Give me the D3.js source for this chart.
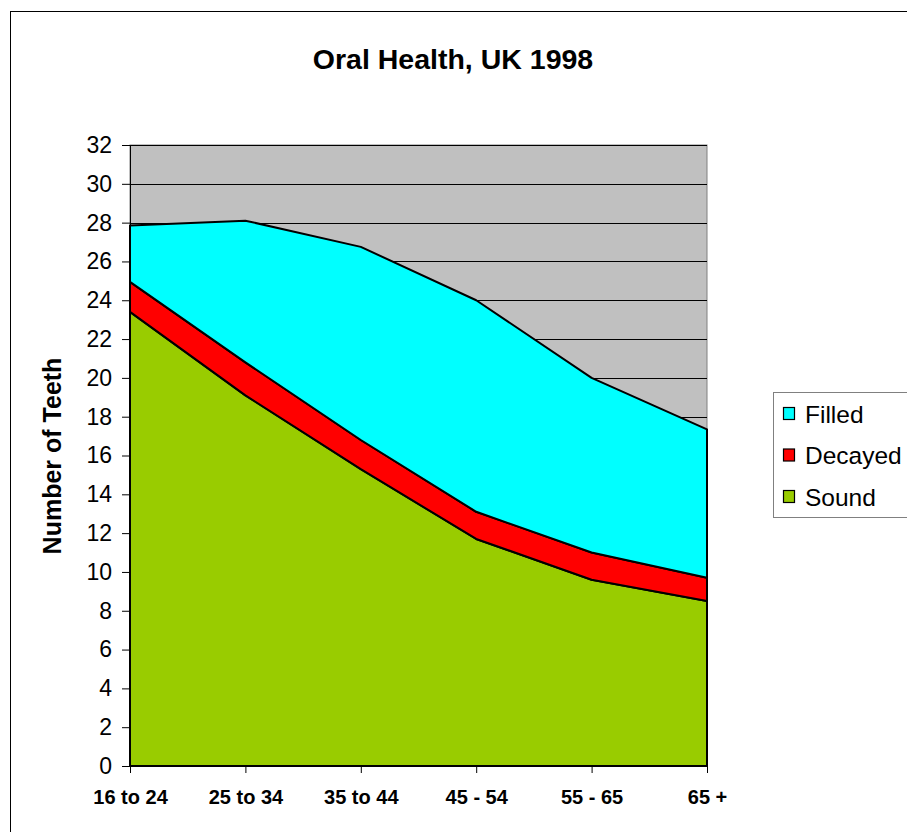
<!DOCTYPE html>
<html>
<head>
<meta charset="utf-8">
<script src="https://cdn.jsdelivr.net/npm/d3@7"></script>
<style>
  body { margin: 0; background: #fff; }
  text { font-family: "Liberation Sans", Arial, sans-serif; }
</style>
</head>
<body>
<div id="chart"></div>
<script>
var ageGroups = ["16 to 24", "25 to 34", "35 to 44", "45 - 54", "55 - 65", "65 +"];
var sound   = [23.4, 19.1, 15.3, 11.7, 9.6, 8.5];
var decayed = [1.55, 1.7, 1.5, 1.4, 1.4, 1.2];
var filled  = [2.9, 7.3, 9.95, 10.9, 9.0, 7.65];
var seriesNames = ["Sound", "Decayed", "Filled"];
var seriesColors = ["#99CC00", "#FF0000", "#00FFFF"];
var yTicks = d3.range(0, 33, 2);

var W = 907, H = 832;
var plot = {left: 130, top: 145, right: 707, bottom: 766};

var svg = d3.select("#chart").append("svg")
    .attr("width", W)
    .attr("height", H);

// outer frame
svg.append("rect")
    .attr("x", 10.5).attr("y", 11.5)
    .attr("width", W + 10).attr("height", H + 10)
    .attr("fill", "none")
    .attr("stroke", "#000")
    .attr("stroke-width", 1);

var table = ageGroups.map(function(g, i) {
  return {group: g, Sound: sound[i], Decayed: decayed[i], Filled: filled[i]};
});

var xScale = d3.scalePoint()
    .domain(ageGroups)
    .range([plot.left, plot.right]);

var yScale = d3.scaleLinear()
    .domain([0, 32])
    .range([plot.bottom, plot.top]);

// plot background
svg.append("rect")
    .attr("x", plot.left).attr("y", plot.top)
    .attr("width", plot.right - plot.left)
    .attr("height", plot.bottom - plot.top)
    .attr("fill", "#C0C0C0")
    .attr("stroke", "#808080")
    .attr("stroke-width", 1);

// gridlines
svg.append("g").selectAll("line")
  .data(yTicks.filter(function(d) { return d > 0; }))
  .enter().append("line")
    .attr("x1", plot.left).attr("x2", plot.right)
    .attr("y1", function(d) { return Math.round(yScale(d)) + 0.5; })
    .attr("y2", function(d) { return Math.round(yScale(d)) + 0.5; })
    .attr("stroke", "#000")
    .attr("stroke-width", 1);

var stack = d3.stack().keys(seriesNames);
var layers = stack(table);

var area = d3.area()
    .x(function(d) { return xScale(d.data.group); })
    .y0(function(d) { return yScale(d[0]); })
    .y1(function(d) { return yScale(d[1]); });

svg.append("g").selectAll("path")
  .data(layers)
  .enter().append("path")
    .attr("d", area)
    .attr("fill", function(d, i) { return seriesColors[i]; })
    .attr("stroke", "#000")
    .attr("stroke-width", 2)
    .attr("stroke-linejoin", "round");

// y axis
var yAxis = svg.append("g")
    .attr("transform", "translate(" + plot.left + ",0)")
    .call(d3.axisLeft(yScale).tickValues(yTicks).tickSize(8).tickPadding(10));
yAxis.select(".domain").attr("stroke", "#000");
yAxis.selectAll("text")
    .attr("font-size", "23px")
    .attr("fill", "#000")
    .style("font-family", "'Liberation Sans', Arial, sans-serif");

// x axis
var xAxis = svg.append("g")
    .attr("transform", "translate(0," + plot.bottom + ")")
    .call(d3.axisBottom(xScale).tickSize(7).tickPadding(17));
xAxis.select(".domain").attr("stroke", "#000");
xAxis.selectAll("text")
    .attr("font-size", "20px")
    .attr("font-weight", "bold")
    .attr("fill", "#000")
    .style("font-family", "'Liberation Sans', Arial, sans-serif");

// title
svg.append("text")
    .attr("x", 453).attr("y", 69)
    .attr("text-anchor", "middle")
    .attr("font-size", "28.5px")
    .attr("font-weight", "bold")
    .text("Oral Health, UK 1998");

// y axis title
svg.append("text")
    .attr("transform", "translate(61,456) rotate(-90)")
    .attr("text-anchor", "middle")
    .attr("font-size", "25px")
    .attr("font-weight", "bold")
    .text("Number of Teeth");

// legend
var legend = svg.append("g");
legend.append("rect")
    .attr("x", 773.5).attr("y", 392.5)
    .attr("width", 150).attr("height", 125)
    .attr("fill", "#fff")
    .attr("stroke", "#808080");

var legendItems = ["Filled", "Decayed", "Sound"];
var legendRow = legend.selectAll(".legendRow")
  .data(legendItems)
  .enter().append("g")
    .attr("class", "legendRow")
    .attr("transform", function(d, i) { return "translate(0," + (414 + i * 41.5) + ")"; });

legendRow.append("rect")
    .attr("x", 783.5).attr("y", -6.5)
    .attr("width", 11).attr("height", 12)
    .attr("fill", function(d) { return seriesColors[seriesNames.indexOf(d)]; })
    .attr("stroke", "#000")
    .attr("stroke-width", 1.2);

legendRow.append("text")
    .attr("x", 805).attr("y", 0)
    .attr("dy", "0.36em")
    .attr("font-size", "24.5px")
    .text(function(d) { return d; });
</script>
</body>
</html>
